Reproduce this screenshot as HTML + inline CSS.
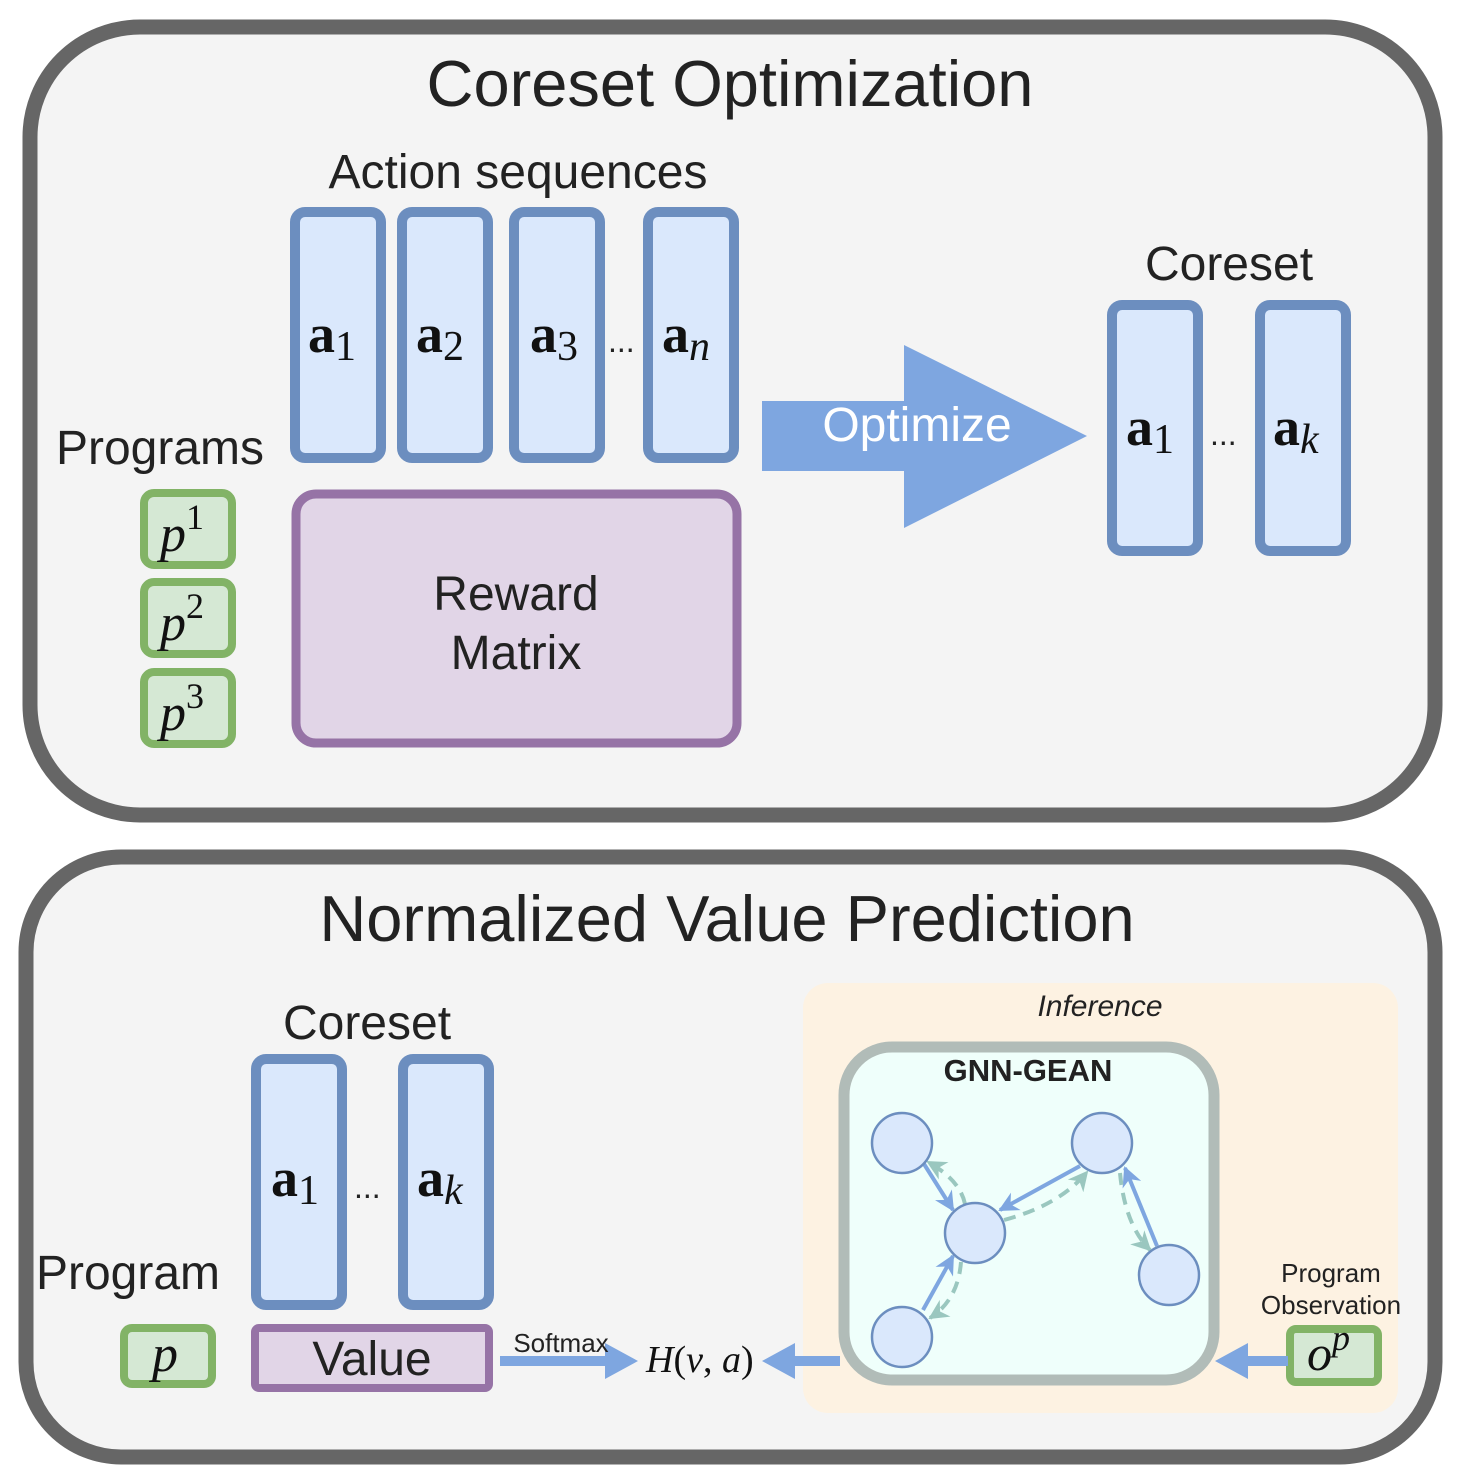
<!DOCTYPE html>
<html><head><meta charset="utf-8"><style>
html,body{margin:0;padding:0;background:#fff;}
svg{display:block;}
.s{font-family:"Liberation Sans",sans-serif;fill:#222;}
.m{font-family:"Liberation Serif",serif;fill:#111;}
</style></head><body>
<svg width="1464" height="1482" viewBox="0 0 1464 1482" xmlns="http://www.w3.org/2000/svg">
<defs>
<marker id="bh" viewBox="0 0 10 10" refX="9" refY="5" markerWidth="5" markerHeight="5" orient="auto-start-reverse"><path d="M0,0 L10,5 L0,10 L3,5z" fill="#7ea6e0"/></marker>
<marker id="gh" viewBox="0 0 10 10" refX="9" refY="5" markerWidth="5" markerHeight="5" orient="auto"><path d="M0,0 L10,5 L0,10 L3,5z" fill="#9ac7bf"/></marker>
</defs>
<!-- top panel -->
<rect x="30" y="27" width="1405" height="788" rx="110" fill="#f4f4f4" stroke="#666" stroke-width="15"/>
<text class="s" x="730" y="106" font-size="65" text-anchor="middle">Coreset Optimization</text>
<text class="s" x="518" y="188" font-size="48" text-anchor="middle">Action sequences</text>
<g fill="#dae8fc" stroke="#6c8ebf" stroke-width="10">
<rect x="295" y="212" width="86" height="246" rx="10"/>
<rect x="402" y="212" width="86" height="246" rx="10"/>
<rect x="514" y="212" width="86" height="246" rx="10"/>
<rect x="648" y="212" width="86" height="246" rx="10"/>
<rect x="1112" y="305" width="86" height="246" rx="10"/>
<rect x="1260" y="305" width="86" height="246" rx="10"/>
</g>
<g class="m" font-size="54">
<text x="308" y="352" font-weight="bold">a<tspan font-weight="normal" font-size="42" dy="8">1</tspan></text>
<text x="416" y="352" font-weight="bold">a<tspan font-weight="normal" font-size="42" dy="8">2</tspan></text>
<text x="530" y="352" font-weight="bold">a<tspan font-weight="normal" font-size="42" dy="8">3</tspan></text>
<text x="662" y="352" font-weight="bold">a<tspan font-weight="normal" font-style="italic" font-size="42" dy="8">n</tspan></text>
<text x="1126" y="445" font-weight="bold">a<tspan font-weight="normal" font-size="42" dy="8">1</tspan></text>
<text x="1273" y="445" font-weight="bold">a<tspan font-weight="normal" font-style="italic" font-size="42" dy="8">k</tspan></text>
</g>
<text class="s" x="608" y="352" font-size="32">...</text>
<text class="s" x="1210" y="445" font-size="32">...</text>
<text class="s" x="1229" y="280" font-size="48" text-anchor="middle">Coreset</text>
<text class="s" x="160" y="464" font-size="48" text-anchor="middle">Programs</text>
<g fill="#d5e8d4" stroke="#82b366" stroke-width="8">
<rect x="144" y="493" width="88" height="72" rx="10"/>
<rect x="144" y="582" width="88" height="72" rx="10"/>
<rect x="144" y="672" width="88" height="72" rx="10"/>
</g>
<g class="m" font-size="52" font-style="italic">
<text x="160" y="551">p<tspan font-style="normal" font-size="36" dy="-22">1</tspan></text>
<text x="160" y="640">p<tspan font-style="normal" font-size="36" dy="-22">2</tspan></text>
<text x="160" y="730">p<tspan font-style="normal" font-size="36" dy="-22">3</tspan></text>
</g>
<rect x="296" y="494" width="441" height="249" rx="20" fill="#e1d5e7" stroke="#9673a6" stroke-width="9"/>
<text class="s" x="516" y="610" font-size="48" text-anchor="middle">Reward</text>
<text class="s" x="516" y="669" font-size="48" text-anchor="middle">Matrix</text>
<path d="M762,401 L904,401 L904,345 L1087,436 L904,528 L904,471 L762,471z" fill="#7ea6e0"/>
<text class="s" x="917" y="441" font-size="48" text-anchor="middle" style="fill:#fff">Optimize</text>
<!-- bottom panel -->
<rect x="26" y="857" width="1409" height="600" rx="95" fill="#f4f4f4" stroke="#666" stroke-width="15"/>
<text class="s" x="727" y="941" font-size="65" text-anchor="middle">Normalized Value Prediction</text>
<text class="s" x="367" y="1039" font-size="48" text-anchor="middle">Coreset</text>
<g fill="#dae8fc" stroke="#6c8ebf" stroke-width="10">
<rect x="256" y="1059" width="86" height="246" rx="10"/>
<rect x="403" y="1059" width="86" height="246" rx="10"/>
</g>
<g class="m" font-size="54">
<text x="271" y="1196" font-weight="bold">a<tspan font-weight="normal" font-size="42" dy="8">1</tspan></text>
<text x="417" y="1196" font-weight="bold">a<tspan font-weight="normal" font-style="italic" font-size="42" dy="8">k</tspan></text>
</g>
<text class="s" x="354" y="1198" font-size="32">...</text>
<text class="s" x="128" y="1289" font-size="48" text-anchor="middle">Program</text>
<rect x="124" y="1328" width="88" height="56" rx="8" fill="#d5e8d4" stroke="#82b366" stroke-width="8"/>
<text class="m" x="152" y="1371" font-size="52" font-style="italic">p</text>
<rect x="255" y="1328" width="234" height="60" rx="4" fill="#e1d5e7" stroke="#9673a6" stroke-width="8"/>
<text class="s" x="372" y="1375" font-size="48" text-anchor="middle">Value</text>
<rect x="803" y="983" width="595" height="430" rx="25" fill="#fdf2e2"/>
<text class="s" x="1100" y="1016" font-size="30" font-style="italic" text-anchor="middle">Inference</text>
<rect x="844" y="1047" width="370" height="333" rx="48" fill="#effffb" stroke="#b1bcb8" stroke-width="11"/>
<text class="s" x="1028" y="1081" font-size="31" font-weight="bold" text-anchor="middle">GNN-GEAN</text>
<g stroke="#7ea6e0" stroke-width="4" fill="none" marker-end="url(#bh)">
<line x1="924" y1="1164" x2="953" y2="1210"/>
<line x1="1080" y1="1166" x2="1000" y2="1210"/>
<line x1="1157" y1="1246" x2="1125" y2="1168"/>
<line x1="923" y1="1310" x2="953" y2="1256"/>
</g>
<g stroke="#9ac7bf" stroke-width="4" fill="none" stroke-dasharray="12,8" marker-end="url(#gh)">
<path d="M965,1204 Q960,1180 928,1162"/>
<path d="M1004,1220 Q1060,1205 1087,1172"/>
<path d="M1120,1173 Q1125,1225 1150,1250"/>
<path d="M961,1262 Q958,1300 930,1318"/>
</g>
<g fill="#dae8fc" stroke="#6c8ebf" stroke-width="2.5">
<circle cx="902" cy="1143" r="30"/>
<circle cx="1102" cy="1143" r="30"/>
<circle cx="975" cy="1233" r="30"/>
<circle cx="1169" cy="1275" r="30"/>
<circle cx="902" cy="1337" r="30"/>
</g>
<text class="s" x="1331" y="1282" font-size="26" text-anchor="middle">Program</text>
<text class="s" x="1331" y="1314" font-size="26" text-anchor="middle">Observation</text>
<rect x="1290" y="1329" width="88" height="53" rx="6" fill="#d5e8d4" stroke="#82b366" stroke-width="8"/>
<text class="m" x="1307" y="1370" font-size="50" font-style="italic">o<tspan font-size="36" dy="-20">p</tspan></text>
<!-- arrows -->
<path d="M500,1356 L605,1356 L605,1343 L638,1361 L605,1379 L605,1366 L500,1366z" fill="#7ea6e0"/>
<text class="s" x="561" y="1352" font-size="26" text-anchor="middle">Softmax</text>
<text class="m" x="646" y="1372" font-size="38" font-style="italic">H<tspan font-style="normal">(</tspan>v<tspan font-style="normal">, </tspan>a<tspan font-style="normal">)</tspan></text>
<path d="M840,1356 L795,1356 L795,1343 L762,1361 L795,1379 L795,1366 L840,1366z" fill="#7ea6e0"/>
<path d="M1288,1356 L1248,1356 L1248,1343 L1215,1361 L1248,1379 L1248,1366 L1288,1366z" fill="#7ea6e0"/>
</svg>
</body></html>
